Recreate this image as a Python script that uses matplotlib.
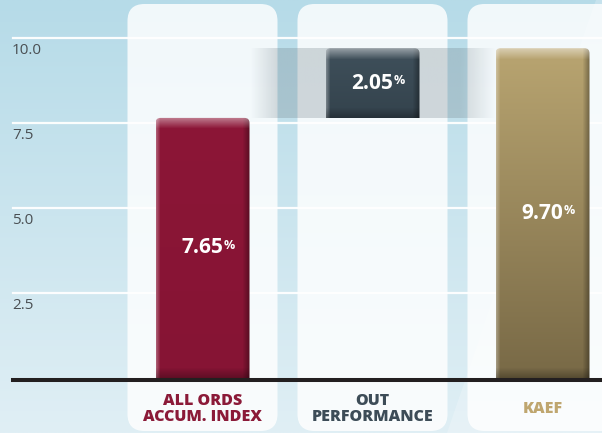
import numpy as np
import matplotlib
matplotlib.use('Agg')
import matplotlib.pyplot as plt
from matplotlib.patches import FancyBboxPatch, Polygon
from matplotlib.colors import to_rgb

# data
categories = ["ALL ORDS\nACCUM. INDEX", "OUT\nPERFORMANCE", "KAEF"]
values = [7.65, 2.05, 9.70]                 # % returns; out-performance sits on top of the index bar
bottoms = [0.0, values[0], 0.0]
yticks = [2.5, 5.0, 7.5, 10.0]
ytick_labels = ["2.5", "5.0", "7.5", "10.0"]
label_colors = ["#8b1a38", "#3d4c57", "#bfa66f"]
bar_top_cols = ["#8c1637", "#3f505b", "#b9a571"]
bar_bot_cols = ["#861434", "#34434d", "#786946"]

W, H = 602, 433
PXY = 34.0; Y0 = 378.0          # px per y unit, pixel row of y=0
PXX = 170.0; X0 = 202.5         # px per category, pixel col of first category
BAR_W = 94 / PXX; PANEL_W = 150 / PXX
ASPECT = PXX / PXY              # for round corners in data units

plt.rcParams['font.family'] = ['Open Sans', 'DejaVu Sans']
fig = plt.figure(figsize=(W / 100, H / 100), dpi=100)
ax = fig.add_axes([0, 0, 1, 1]); ax.axis('off')
xlim = (-X0 / PXX, (W - X0) / PXX); ylim = ((Y0 - H) / PXY, Y0 / PXY)

# background: light blue vertical gradient
g = np.linspace(0, 1, 256)[:, None]
top_c, bot_c = np.array(to_rgb('#b6dbe8')), np.array(to_rgb('#e0eff5'))
bg = top_c[None, None, :] * (1 - g[..., None]) + bot_c[None, None, :] * g[..., None]
bg = np.repeat(bg, 2, axis=1)
ax.imshow(bg, extent=(0, 1, 0, 1), transform=ax.transAxes, aspect='auto', zorder=0)
# faint diagonal light streak on the right
ax.add_patch(Polygon([(596 / W, 1), (1, 1), (1, 0), (447 / W, 0)], closed=True, transform=ax.transAxes,
                     fc='white', ec='none', alpha=0.22, zorder=0.5))

xs = np.arange(len(categories))
# white rounded panels behind each bar
for x in xs:
    ax.add_patch(FancyBboxPatch((x - PANEL_W / 2, (Y0 - 431) / PXY), PANEL_W, (431 - 4) / PXY,
                                boxstyle=f"round,pad=0,rounding_size={17 / PXX}", mutation_aspect=ASPECT,
                                fc='white', ec='none', alpha=0.82, zorder=1))

# grid lines + tick labels
for v, lab in zip(yticks, ytick_labels):
    ax.axhline(v, xmin=13 / W, xmax=1, color='white', lw=1.6, alpha=0.95, zorder=2)
    ax.text(xlim[0] + 12 / PXX, v - 5 / PXY, lab, ha='left', va='top', fontsize=11,
            fontweight='normal', color='#4a4f53', zorder=2)

# translucent band linking the two bar tops (fades at both ends)
bx0, bx1 = xs[0] + BAR_W / 2, xs[2] - BAR_W / 2
n = 400; px = np.linspace(bx0 * PXX + X0, bx1 * PXX + X0, n)
alpha = np.clip((px - 250) / 28, 0, 1) * np.clip((495 - px) / 35, 0, 1) * 0.26
band = np.zeros((2, n, 4)); band[..., :3] = to_rgb('#66757e'); band[..., 3] = alpha
ax.imshow(band, extent=(bx0, bx1, bottoms[1], bottoms[1] + values[1]), aspect='auto', zorder=3)

def bar_image(h_px, top, bot, w_px=94):
    t = np.linspace(0, 1, h_px)[:, None, None]
    img = np.array(to_rgb(top)) * (1 - t) + np.array(to_rgb(bot)) * t
    img = np.repeat(img, w_px, axis=1)
    cx = np.arange(w_px)
    left = np.clip(1 - cx / 4, 0, 1) * 0.3                        # light left edge
    right = np.clip((cx - (w_px - 8)) / 8, 0, 1) * 0.4            # dark right edge
    img = img + (1 - img) * left[None, :, None]
    img = img * (1 - right[None, :, None])
    ry = np.arange(h_px)
    hi = np.clip(1 - ry / 11, 0, 1) * 0.45                         # top highlight
    lo = np.clip((ry - (h_px - 11)) / 11, 0, 1) * 0.3              # bottom shadow
    img = img + (1 - img) * hi[:, None, None]
    img = img * (1 - lo[:, None, None])
    return np.clip(img, 0, 1)

for x, b, v, tc, bc in zip(xs, bottoms, values, bar_top_cols, bar_bot_cols):
    im = ax.imshow(bar_image(int(round(v * PXY)), tc, bc), extent=(x - BAR_W / 2, x + BAR_W / 2, b, b + v),
                   aspect='auto', zorder=4, interpolation='bilinear')
    clip = FancyBboxPatch((x - BAR_W / 2, b - 0.5), BAR_W, v + 0.5, boxstyle=f"round,pad=0,rounding_size={5 / PXX}",
                          mutation_aspect=ASPECT, transform=ax.transData)
    im.set_clip_path(clip)
    t = ax.text(x, b + v / 2, f"{v:.2f}", ha='center', va='center', fontsize=15, fontweight='bold', color='white', zorder=6)
    ax.annotate("%", xy=(1, 1), xycoords=t, xytext=(0.2, -1), textcoords='offset points', ha='left', va='top',
                fontsize=9, fontweight='bold', color='white', zorder=6)

# baseline
ax.axhline(-2 / PXY, xmin=13 / W, xmax=1, color='#231f20', lw=2.9, zorder=5)

# category labels
for x, lab, c in zip(xs, categories, label_colors):
    ax.text(x, (Y0 - 409) / PXY, lab, ha='center', va='center', fontsize=11.5, fontweight='heavy', color=c,
            linespacing=1.05, zorder=6)

ax.set_xlim(*xlim); ax.set_ylim(*ylim)
fig.savefig('out.png', dpi=100)
